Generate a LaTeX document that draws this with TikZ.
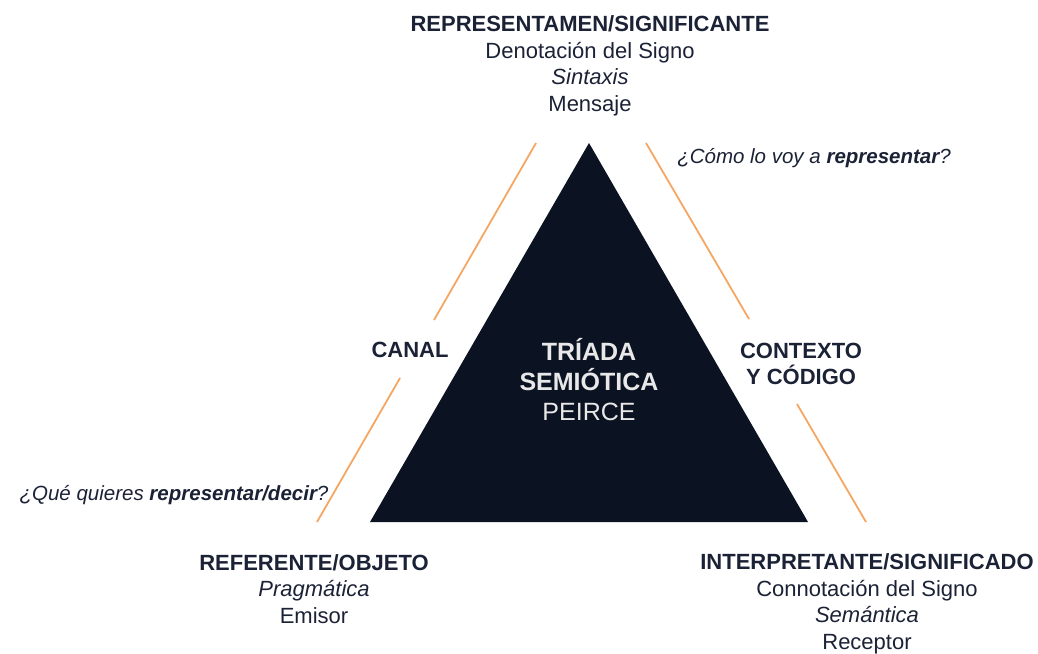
\documentclass[tikz,border=0pt]{standalone}
\usepackage{fontspec}
\setmainfont{Liberation Sans}

\definecolor{navy}{HTML}{0B1222}
\definecolor{ink}{HTML}{1B2236}
\definecolor{peach}{HTML}{F5A663}
\definecolor{pale}{HTML}{E8E8E8}

\tikzset{
  lbl/.style={text=ink, align=center, inner sep=0pt, font=\fontsize{22}{26.5}\selectfont},
  ask/.style={text=ink, inner sep=0pt, font=\fontsize{20.5}{24}\selectfont\itshape},
  core/.style={text=pale, align=center, inner sep=0pt, font=\fontsize{25}{30}\selectfont},
  guide/.style={peach, line width=1.8pt},
}

\begin{document}
\begin{tikzpicture}[x=1pt, y=-1pt]
  \useasboundingbox (0,0) rectangle (1038,653);

  % triangle
  \coordinate (apex) at (589,143);
  \coordinate (bl) at (370,522);
  \coordinate (br) at (808,522);
  \fill[navy] (apex) -- (bl) -- (br) -- cycle;

  % orange guides, left side
  \coordinate (la) at (536,143);
  \coordinate (lb) at (434,320);
  \coordinate (lc) at (400,378);
  \coordinate (ld) at (317,522);
  \draw[guide] (la) -- (lb);
  \draw[guide] (lc) -- (ld);

  % orange guides, right side
  \coordinate (ra) at (646,143);
  \coordinate (rb) at (749,319);
  \coordinate (rc) at (797,404);
  \coordinate (rd) at (866,522);
  \draw[guide] (ra) -- (rb);
  \draw[guide] (rc) -- (rd);

  % corners
  \node[lbl] (sign) at (590,66) {\textbf{REPRESENTAMEN/SIGNIFICANTE}\\Denotación del Signo\\\textit{Sintaxis}\\Mensaje};
  \node[lbl] (object) at (314,589) {\textbf{REFERENTE/OBJETO}\\\textit{Pragmática}\\Emisor};
  \node[lbl] (interp) at (867,604) {\textbf{INTERPRETANTE/SIGNIFICADO}\\Connotación del Signo\\\textit{Semántica}\\Receptor};

  % sides
  \node[lbl, font=\fontsize{22}{26.5}\selectfont\bfseries] (canal) at (410,350) {CANAL};
  \node[lbl, font=\fontsize{22}{26.5}\selectfont\bfseries] (context) at (801,364) {CONTEXTO\\Y CÓDIGO};

  % questions
  \node[ask] (how) at (814,158) {¿Cómo lo voy a \textbf{representar}?};
  \node[ask] (what) at (174,495) {¿Qué quieres \textbf{representar/decir}?};

  % centre
  \node[core] (title) at (589,380) {\textbf{TRÍADA}\\\textbf{SEMIÓTICA}\\PEIRCE};
\end{tikzpicture}
\end{document}
